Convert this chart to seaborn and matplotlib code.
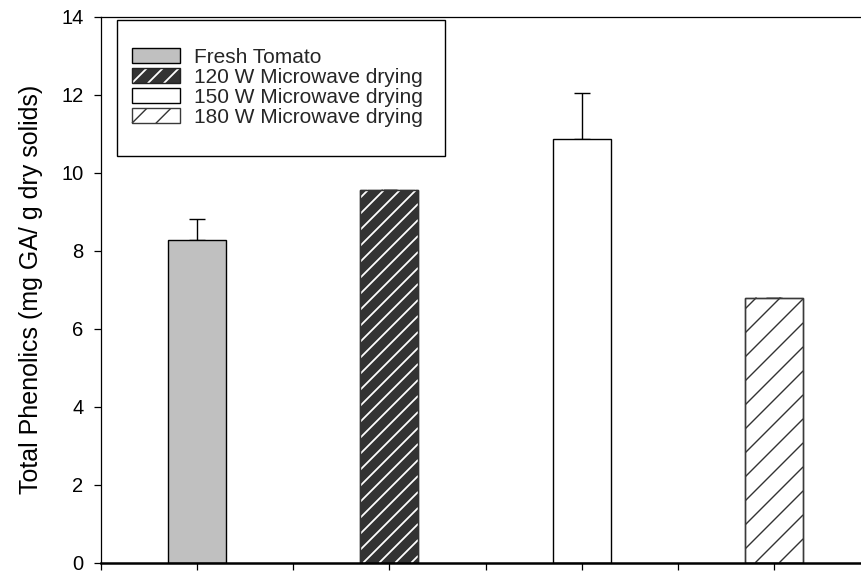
import numpy as np
import pandas as pd
import matplotlib
matplotlib.use("Agg")
import matplotlib.pyplot as plt
import seaborn as sns
from matplotlib.collections import LineCollection
from matplotlib.transforms import IdentityTransform
from matplotlib.patches import Rectangle
from matplotlib.path import Path
from matplotlib.legend_handler import HandlerBase

# ---- data -------------------------------------------------------------
treatments = ["Fresh Tomato", "120 W Microwave drying",
              "150 W Microwave drying", "180 W Microwave drying"]
phenolics = [8.27, 9.56, 10.87, 6.80]        # mg GA / g dry solids
phenolics_sd = [0.55, 0.0, 1.17, 0.0]
y_ticks = [0, 2, 4, 6, 8, 10, 12, 14]

# ---- styling ----------------------------------------------------------
face_colors = ["#c0c0c0", "#333333", "#ffffff", "#ffffff"]
edge_colors = ["#000000", "#333333", "#000000", "#3a3a3a"]
hatch_colors = [None, "#ffffff", None, "#333333"]
hatch_spacing_px = [None, 16, None, 24]
hatch_widths = [None, 1.3, None, 1.0]

sns.set_style("ticks")
plt.rcParams["font.family"] = ["Liberation Sans", "DejaVu Sans"]

W, H, DPI = 861, 574, 100
fig = plt.figure(figsize=(W / DPI, H / DPI), dpi=DPI)
# axes box in pixels (the right edge runs past the canvas)
ax_l, ax_r, ax_t, ax_b = 100.5, 870.5, 16.7, 562.7
ax = fig.add_axes([ax_l / W, 1 - ax_b / H, (ax_r - ax_l) / W, (ax_b - ax_t) / H])

df = pd.DataFrame({"treatment": treatments, "phenolics": phenolics})
sns.barplot(data=df, x="treatment", y="phenolics", hue="treatment",
            palette=face_colors, saturation=1, width=0.3, errorbar=None,
            linewidth=1.0, edgecolor="black", legend=False, ax=ax, zorder=2)

ax.errorbar(np.arange(len(phenolics)), phenolics,
            yerr=[np.zeros(len(phenolics)), phenolics_sd],
            fmt="none", ecolor="black", elinewidth=1.0, capsize=5.8,
            capthick=1.0, zorder=1)

ax.set_xlim(-0.5, len(treatments) - 0.5)
ax.set_ylim(0, 14)
ax.set_yticks(y_ticks)
ax.set_xticks(np.arange(-0.5, len(treatments) - 0.49, 0.5))
ax.set_xticklabels([])
ax.set_xlabel("")
ax.set_ylabel("Total Phenolics (mg GA/ g dry solids)", fontsize=18,
              labelpad=13, color="black")

ax.tick_params(axis="both", direction="out", length=5.3, width=0.9,
               color="black", labelcolor="black", labelsize=14.5)
ax.tick_params(axis="y", pad=7)
for side, sp in ax.spines.items():
    sp.set_color("black")
    sp.set_linewidth(0.9)
ax.spines["bottom"].set_linewidth(1.8)


def diagonal_segments(x0, y0, x1, y1, spacing):
    """45-degree lines clipped to the box (x0, y0)-(x1, y1)."""
    segs = []
    k0 = int(np.floor((y0 - x1) / spacing))
    k1 = int(np.ceil((y1 - x0) / spacing))
    for k in range(k0, k1 + 1):
        c = k * spacing
        lo, hi = max(x0, y0 - c), min(x1, y1 - c)
        if hi > lo:
            segs.append([(lo, lo + c), (hi, hi + c)])
    return segs


bars = sorted(ax.patches, key=lambda p: p.get_x())
for bar, ec, hc, hs, hw in zip(bars, edge_colors, hatch_colors,
                               hatch_spacing_px, hatch_widths):
    bar.set_edgecolor(ec)
    if hc is None:
        continue
    bb = bar.get_window_extent()
    segs = diagonal_segments(bb.x0, bb.y0, bb.x1, bb.y1, hs)
    lc = LineCollection(segs, colors=hc, linewidths=hw,
                        transform=IdentityTransform(), zorder=2.1)
    ax.add_collection(lc, autolim=False)
    outline = Rectangle((bar.get_x(), 0), bar.get_width(), bar.get_height(),
                        facecolor="none", edgecolor=ec, linewidth=1.0, zorder=2.2)
    ax.add_patch(outline)


class HatchedBoxHandler(HandlerBase):
    def __init__(self, face, edge, hatch_color=None, spacing_px=None, hw=1.0):
        super().__init__()
        self.face, self.edge = face, edge
        self.hatch_color, self.spacing_px, self.hw = hatch_color, spacing_px, hw

    def create_artists(self, legend, orig_handle, xdescent, ydescent,
                       width, height, fontsize, trans):
        x0, y0 = -xdescent, -ydescent
        artists = [Rectangle((x0, y0), width, height, facecolor=self.face,
                             edgecolor="none", transform=trans)]
        if self.hatch_color is not None:
            s = self.spacing_px * 72.0 / legend.get_figure(root=True).dpi
            segs = diagonal_segments(x0, y0, x0 + width, y0 + height, s)
            artists.append(LineCollection(segs, colors=self.hatch_color,
                                          linewidths=self.hw, transform=trans))
        artists.append(Rectangle((x0, y0), width, height, facecolor="none",
                                 edgecolor=self.edge, linewidth=1.0,
                                 transform=trans))
        return artists


legend_edges = ["#000000", "#222222", "#000000", "#3a3a3a"]
proxies = [Rectangle((0, 0), 1, 1) for _ in treatments]
handler_map = {p: HatchedBoxHandler(fc, ec, hc, hs, hw or 1.0)
               for p, fc, ec, hc, hs, hw in zip(proxies, face_colors, legend_edges,
                                                hatch_colors, hatch_spacing_px,
                                                hatch_widths)}

leg_fs = 15
fs_px = leg_fs * DPI / 72.0
extra_frac = 0.65                      # additional top/bottom frame padding
extra_right = 0.35                     # additional right frame padding
frame_left, frame_top = 117.0, 19.5
anchor_x = (frame_left - ax_l) / (ax_r - ax_l)
anchor_y = (ax_b - (frame_top + extra_frac * fs_px)) / (ax_b - ax_t)

leg = ax.legend(proxies, treatments, handler_map=handler_map,
                loc="upper left", bbox_to_anchor=(anchor_x, anchor_y),
                borderaxespad=0, fontsize=leg_fs, frameon=True, fancybox=False,
                edgecolor="black", framealpha=1, shadow=False,
                handlelength=2.29, handleheight=0.72, handletextpad=0.67,
                labelspacing=0.05, borderpad=0.72)
leg.get_frame().set_linewidth(1.0)


def tall_frame(x0, y0, width, height, mutation_size):
    d = extra_frac * mutation_size
    r = extra_right * mutation_size
    return Path([(x0, y0 - d), (x0 + width + r, y0 - d),
                 (x0 + width + r, y0 + height + d), (x0, y0 + height + d),
                 (x0, y0 - d)], closed=True)


leg.get_frame().set_boxstyle(tall_frame)
leg.set_zorder(5)

fig.savefig("out.png", dpi=DPI, facecolor="white")
